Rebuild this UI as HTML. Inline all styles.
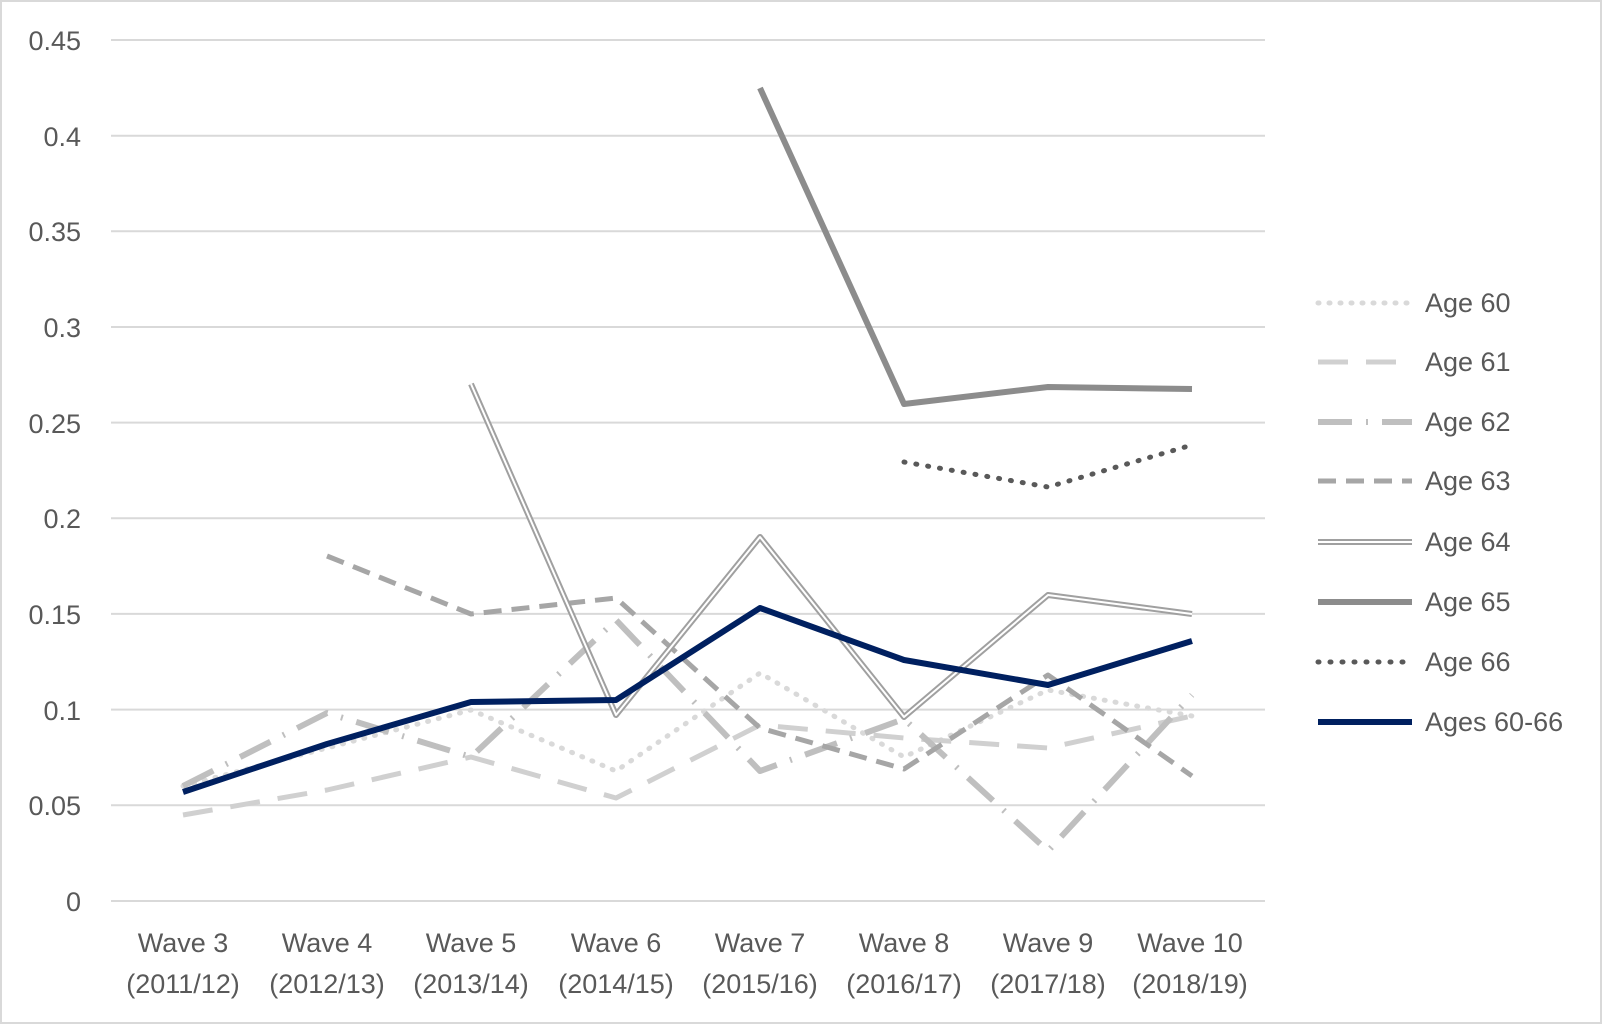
<!DOCTYPE html>
<html><head><meta charset="utf-8"><style>
html,body{margin:0;padding:0;background:#fff}
svg{display:block}
text{font-family:"Liberation Sans",sans-serif;fill:#595959;font-size:27px}
</style></head><body>
<svg width="1603" height="1025" viewBox="0 0 1603 1025" xmlns="http://www.w3.org/2000/svg">
<rect x="1" y="1" width="1600" height="1022" fill="#fff" stroke="#d9d9d9" stroke-width="2"/>
<g stroke="#d9d9d9" stroke-width="2">
<line x1="111" x2="1265" y1="40" y2="40"/><line x1="111" x2="1265" y1="135.7" y2="135.7"/>
<line x1="111" x2="1265" y1="231.3" y2="231.3"/><line x1="111" x2="1265" y1="327" y2="327"/>
<line x1="111" x2="1265" y1="422.6" y2="422.6"/><line x1="111" x2="1265" y1="518.3" y2="518.3"/>
<line x1="111" x2="1265" y1="613.9" y2="613.9"/><line x1="111" x2="1265" y1="709.6" y2="709.6"/>
<line x1="111" x2="1265" y1="805.2" y2="805.2"/><line x1="111" x2="1265" y1="901" y2="901"/>
</g>
<g text-anchor="end">
<text x="81" y="50">0.45</text><text x="81" y="146">0.4</text><text x="81" y="241">0.35</text>
<text x="81" y="337">0.3</text><text x="81" y="433">0.25</text><text x="81" y="528">0.2</text>
<text x="81" y="624">0.15</text><text x="81" y="720">0.1</text><text x="81" y="815">0.05</text>
<text x="81" y="911">0</text>
</g>
<g text-anchor="middle">
<text x="183" y="952">Wave 3</text><text x="183" y="993">(2011/12)</text>
<text x="327" y="952">Wave 4</text><text x="327" y="993">(2012/13)</text>
<text x="471" y="952">Wave 5</text><text x="471" y="993">(2013/14)</text>
<text x="616" y="952">Wave 6</text><text x="616" y="993">(2014/15)</text>
<text x="760" y="952">Wave 7</text><text x="760" y="993">(2015/16)</text>
<text x="904" y="952">Wave 8</text><text x="904" y="993">(2016/17)</text>
<text x="1048" y="952">Wave 9</text><text x="1048" y="993">(2017/18)</text>
<text x="1190" y="952">Wave 10</text><text x="1190" y="993">(2018/19)</text>
</g>
<g fill="none" stroke-linejoin="round">
<polyline stroke="#d9d9d9" stroke-width="5" stroke-dasharray="1 10" stroke-linecap="round" points="183,786 327,748 471,710 616,771 760,673 904,757 1048,690 1192,716"/>
<polyline stroke="#d0d0d0" stroke-width="5" stroke-dasharray="30 18" points="183,815 327,790 471,757 616,798 760,725 904,738 1048,748 1192,716"/>
<polyline stroke="#bfbfbf" stroke-width="6" stroke-dasharray="34 14 2 14" points="183,786 327,713 471,757 616,620 760,771 904,719 1048,851 1192,695"/>
<polyline stroke="#a6a6a6" stroke-width="5" stroke-dasharray="18 10" points="327,556 471,614 616,598 760,728 904,769 1048,675 1192,776"/>
<polyline stroke="#a0a0a0" stroke-width="6" points="471,384 616,715 760,537 904,717 1048,595 1192,614"/>
<polyline stroke="#fff" stroke-width="2" points="471,384 616,715 760,537 904,717 1048,595 1192,614"/>
<polyline stroke="#8c8c8c" stroke-width="6" points="760,88 904,404 1048,387 1192,389"/>
<polyline stroke="#595959" stroke-width="5" stroke-dasharray="1 11" stroke-linecap="round" points="904,462 1048,487 1192,445"/>
<polyline stroke="#002060" stroke-width="6" points="183,792 327,744 471,702 616,700 760,608 904,660 1048,685 1192,641"/>
</g>
<g fill="none">
<line x1="1318" x2="1412" y1="303" y2="303" stroke="#d9d9d9" stroke-width="5" stroke-dasharray="1 10" stroke-linecap="round"/>
<line x1="1318" x2="1412" y1="362" y2="362" stroke="#d0d0d0" stroke-width="5" stroke-dasharray="30 18"/>
<line x1="1318" x2="1412" y1="422" y2="422" stroke="#bfbfbf" stroke-width="6" stroke-dasharray="34 14 2 14"/>
<line x1="1318" x2="1412" y1="481" y2="481" stroke="#a6a6a6" stroke-width="5" stroke-dasharray="18 10"/>
<line x1="1318" x2="1412" y1="542" y2="542" stroke="#a0a0a0" stroke-width="6"/>
<line x1="1318" x2="1412" y1="542" y2="542" stroke="#fff" stroke-width="2"/>
<line x1="1318" x2="1412" y1="602" y2="602" stroke="#8c8c8c" stroke-width="6"/>
<line x1="1318" x2="1412" y1="662" y2="662" stroke="#595959" stroke-width="5" stroke-dasharray="1 11" stroke-linecap="round"/>
<line x1="1318" x2="1412" y1="722" y2="722" stroke="#002060" stroke-width="6"/>
</g>
<g>
<text x="1425" y="312">Age 60</text><text x="1425" y="371">Age 61</text>
<text x="1425" y="431">Age 62</text><text x="1425" y="490">Age 63</text>
<text x="1425" y="551">Age 64</text><text x="1425" y="611">Age 65</text>
<text x="1425" y="671">Age 66</text><text x="1425" y="731">Ages 60-66</text>
</g>
</svg>
</body></html>
